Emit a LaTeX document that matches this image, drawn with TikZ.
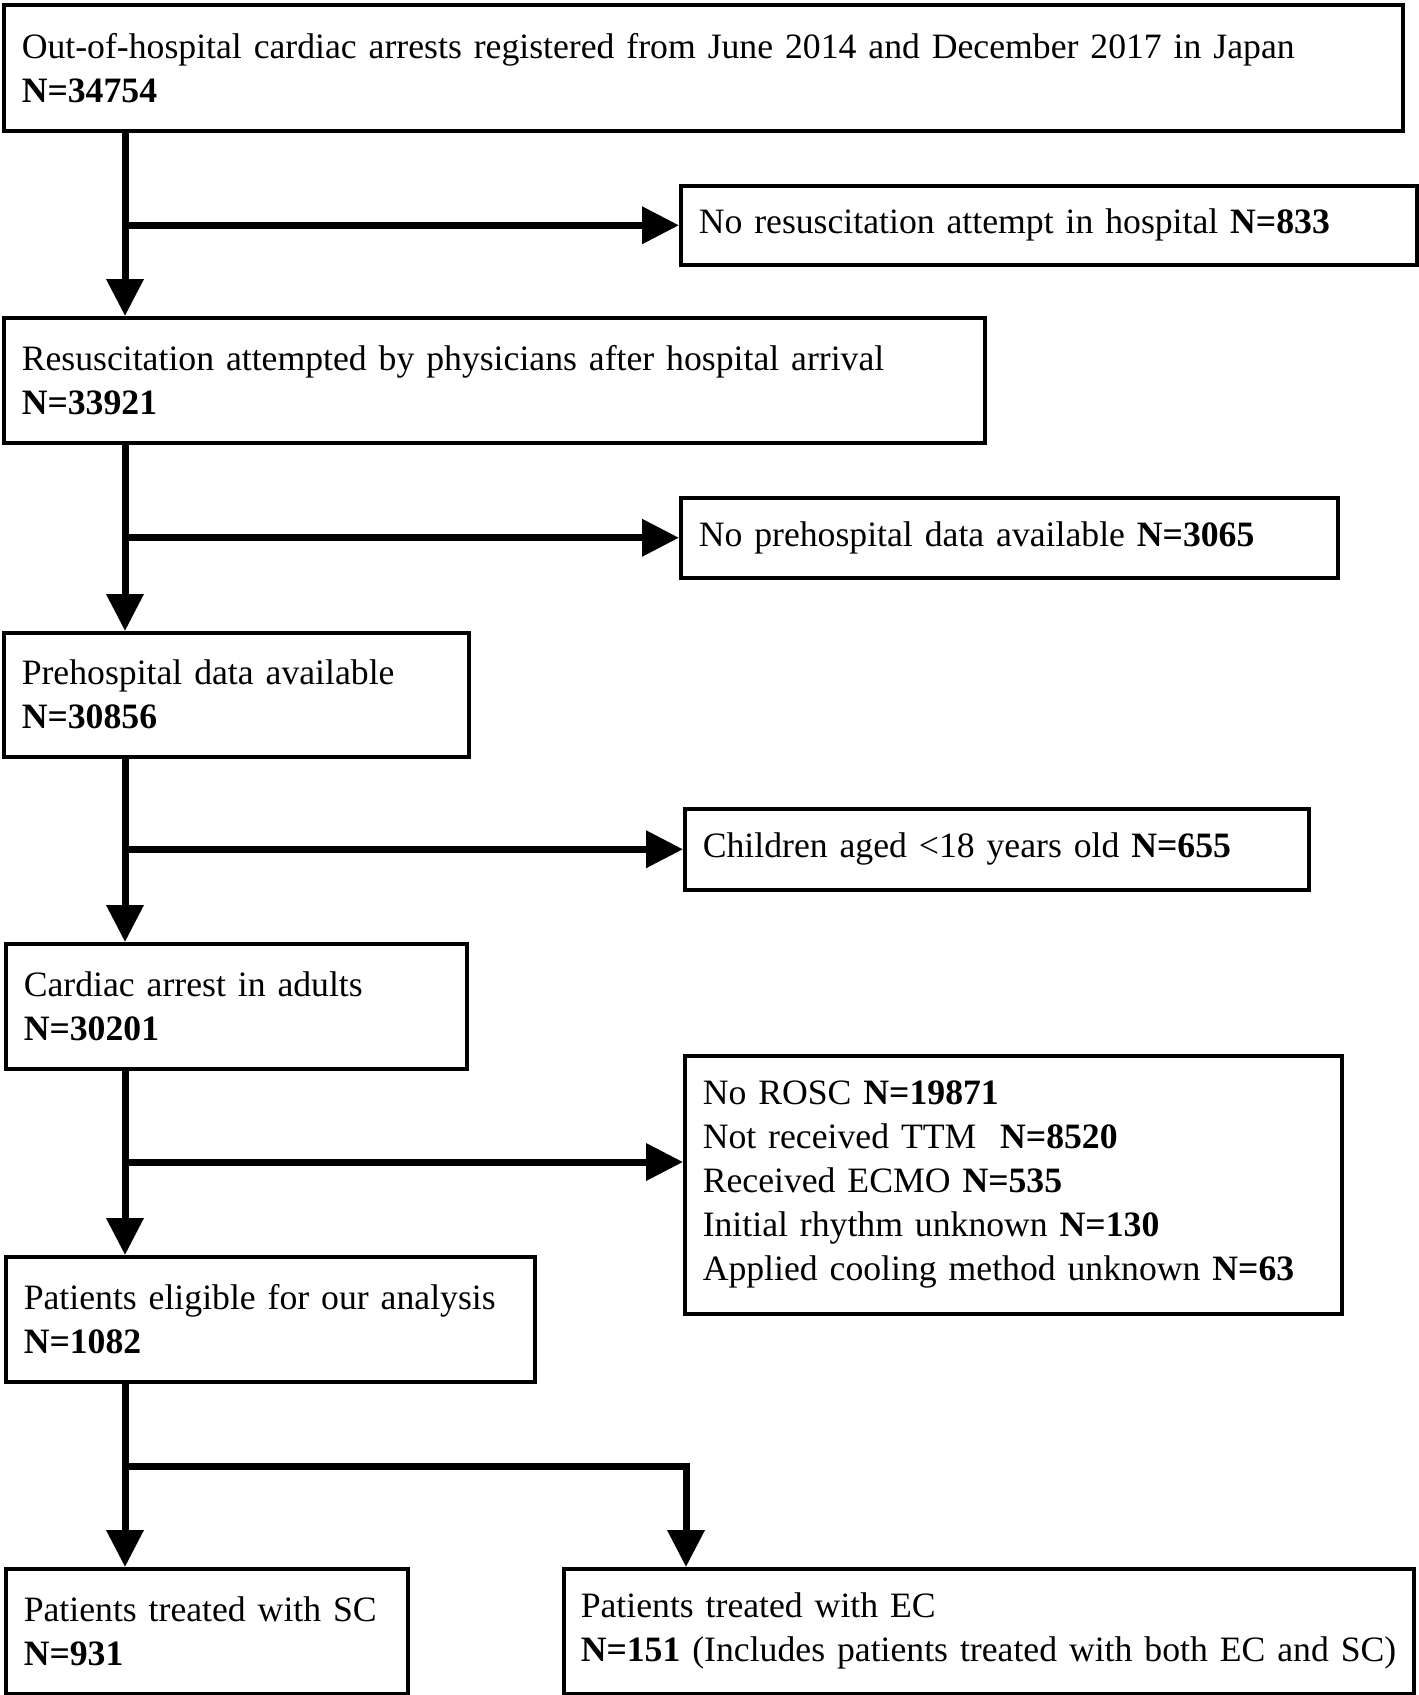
\documentclass[tikz,border=0pt]{standalone}
\usepackage{fontspec}
\setmainfont{Liberation Serif}
\usetikzlibrary{arrows.meta}
\begin{document}
\begin{tikzpicture}[x=1pt,y=-1pt,
  box/.style={draw, line width=3.5pt, anchor=north west, inner xsep=18pt, inner ysep=0pt,
    align=left, font=\fontsize{35.7}{44}\selectfont},
  flow/.style={line width=7pt, line join=miter, -{Triangle[length=37pt,width=36pt]}}]
\useasboundingbox (0,0) rectangle (1419,1695);
\node[box, text width=1363pt, minimum width=1399pt, minimum height=126pt] (b1) at (2,3)
  {Out-of-hospital cardiac arrests registered from June 2014 and December 2017 in Japan\\\textbf{N=34754}};
\node[box, text width=700pt, minimum width=736pt, minimum height=79pt] (x1) at (679,184)
  {No resuscitation attempt in hospital \textbf{N=833}};
\node[box, text width=945pt, minimum width=981pt, minimum height=125pt] (b2) at (2,316)
  {Resuscitation attempted by physicians after hospital arrival\\\textbf{N=33921}};
\node[box, text width=621pt, minimum width=657pt, minimum height=80pt] (x2) at (679,496)
  {No prehospital data available \textbf{N=3065}};
\node[box, text width=429pt, minimum width=465pt, minimum height=124pt] (b3) at (2,631)
  {Prehospital data available\\\textbf{N=30856}};
\node[box, text width=588pt, minimum width=624pt, minimum height=81pt] (x3) at (683,807)
  {Children aged <18 years old \textbf{N=655}};
\node[box, text width=425pt, minimum width=461pt, minimum height=125pt] (b4) at (4,942)
  {Cardiac arrest in adults\\\textbf{N=30201}};
\node[box, text width=621pt, minimum width=657pt, minimum height=258pt] (x4) at (683,1054)
  {No ROSC \textbf{N=19871}\\Not received TTM~ \textbf{N=8520}\\Received ECMO \textbf{N=535}\\Initial rhythm unknown \textbf{N=130}\\Applied cooling method unknown \textbf{N=63}};
\node[box, text width=493pt, minimum width=529pt, minimum height=125pt] (b5) at (4,1255)
  {Patients eligible for our analysis\\\textbf{N=1082}};
\node[box, text width=366pt, minimum width=402pt, minimum height=125pt] (b6) at (4,1567)
  {Patients treated with SC\\\textbf{N=931}};
\node[box, inner xsep=17pt, text width=816pt, minimum width=850pt, minimum height=125pt] (b7) at (562,1567)
  {Patients treated with EC\\\textbf{N=151} (Includes patients treated with both EC and SC)};
\coordinate (t) at (125,0);
\coordinate (e) at (686,0);
\coordinate (j4) at (125,1162);
\coordinate (s) at (125,1466);
\draw[flow] (b1.south -| t) -- (b2.north -| t);
\draw[flow] (t |- x1.west) -- (x1.west);
\draw[flow] (b2.south -| t) -- (b3.north -| t);
\draw[flow] (t |- x2.west) -- (x2.west);
\draw[flow] (b3.south -| t) -- (b4.north -| t);
\draw[flow] (t |- x3.west) -- (x3.west);
\draw[flow] (b4.south -| t) -- (b5.north -| t);
\draw[flow] (j4) -- (j4 -| x4.west);
\draw[flow] (b5.south -| t) -- (b6.north -| t);
\draw[flow] (s) -- (s -| e) -- (b7.north -| e);
\end{tikzpicture}
\end{document}
